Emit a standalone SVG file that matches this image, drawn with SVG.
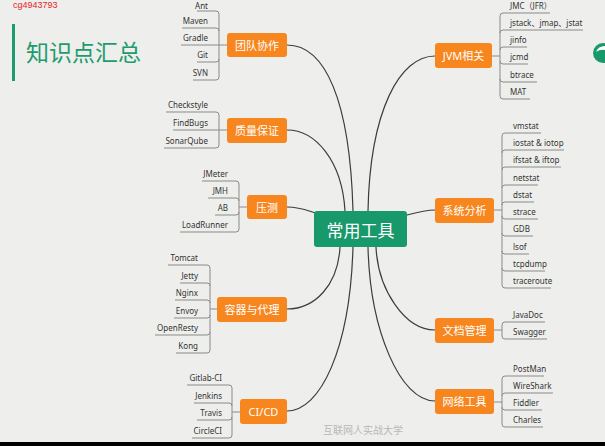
<svg xmlns="http://www.w3.org/2000/svg" width="605" height="446" viewBox="0 0 605 446">
<style>
.main{fill:#f7861e}
.center{fill:#17996b}
.nt{font-family:"Noto Sans","Noto Sans CJK SC",sans-serif;font-size:11px;fill:#ffffff;text-anchor:middle;dominant-baseline:central}
.ct{font-family:"Noto Sans CJK SC","Noto Sans",sans-serif;font-size:17px;fill:#ffffff;text-anchor:middle;dominant-baseline:central}
.conn{fill:none;stroke:#3c3c3c;stroke-width:1.2}
.leafline{fill:none;stroke:#8a8a8a;stroke-width:1}
.lt{font-family:"Noto Sans","Noto Sans CJK SC",sans-serif;font-size:8px;fill:#333333}
.lt.l{text-anchor:end}
</style>
<rect x="0" y="0" width="605" height="446" fill="#eeefec"/>
<rect x="0" y="442" width="605" height="4" fill="#000000"/>
<text x="13" y="8" font-family="Liberation Sans, sans-serif" font-size="9" fill="#e8231e">cg4943793</text>
<rect x="12" y="24" width="3" height="57" fill="#1e9b6e"/>
<text x="26" y="61" font-family="Noto Sans CJK SC, sans-serif" font-size="23" fill="#1e9b6e">知识点汇总</text>
<circle cx="603" cy="53" r="10" fill="#17996b"/>
<path d="M596,52 Q598,46 605,46 L605,50 Q600,49 596,52 Z" fill="#ffffff"/>
<text x="363" y="434" font-family="Noto Sans CJK SC, sans-serif" font-size="10" fill="#b8b8b8" text-anchor="middle">互联网人实战大学</text>

<g id="connectors">
<path class="conn" d="M287,45 C325,45 350,100 353,211"/>
<path class="conn" d="M287,130 C315,130 342,160 345,211"/>
<path class="conn" d="M287,207 C300,207 306,210 315,213"/>
<path class="conn" d="M287,309 C315,309 338,285 340,247"/>
<path class="conn" d="M287,411 C320,411 350,350 353,247"/>
<path class="conn" d="M435,56 C400,56 370,110 368,211"/>
<path class="conn" d="M407,215 C418,212 425,210 435,210"/>
<path class="conn" d="M435,330 C405,330 378,290 376,247"/>
<path class="conn" d="M435,401 C400,401 370,330 368,247"/>
</g>

<g id="center">
<rect class="center" x="314" y="211" width="93" height="36" rx="3"/>
<text class="ct" x="360.5" y="229">常用工具</text>
</g>

<g id="team">
<rect class="main" x="227" y="33" width="60" height="24" rx="3"/>
<text class="nt" x="257" y="45">团队协作</text>
<path class="leafline" d="M219,14 V77 M219,14 Q219,11 216,11 H197 M219,31 Q219,28 216,28 H182 M227,45 H181 M219,59 Q219,62 216,62 H197 M219,77 Q219,80 216,80 H193"/>
<text class="lt l" x="208" y="8.5">Ant</text>
<text class="lt l" x="208" y="24">Maven</text>
<text class="lt l" x="208" y="41">Gradle</text>
<text class="lt l" x="208" y="58">Git</text>
<text class="lt l" x="208" y="76">SVN</text>
</g>

<g id="qa">
<rect class="main" x="227" y="118" width="60" height="25" rx="3"/>
<text class="nt" x="257" y="130.5">质量保证</text>
<path class="leafline" d="M219,115 V145 M219,115 Q219,112 216,112 H166 M227,130 H173 M219,145 Q219,148 216,148 H164"/>
<text class="lt l" x="208" y="108">Checkstyle</text>
<text class="lt l" x="208" y="126">FindBugs</text>
<text class="lt l" x="208" y="144">SonarQube</text>
</g>

<g id="stress">
<rect class="main" x="247" y="195" width="40" height="24" rx="3"/>
<text class="nt" x="267" y="207">压测</text>
<path class="leafline" d="M239,184 V229 M247,207 H239 M239,184 Q239,181 236,181 H202 M239,201 Q239,198 236,198 H208 M239,212 Q239,215 236,215 H215 M239,229 Q239,232 236,232 H180"/>
<text class="lt l" x="228" y="177">JMeter</text>
<text class="lt l" x="228" y="194">JMH</text>
<text class="lt l" x="228" y="211">AB</text>
<text class="lt l" x="228" y="228">LoadRunner</text>
</g>

<g id="container">
<rect class="main" x="217" y="297" width="70" height="25" rx="3"/>
<text class="nt" x="252" y="309.5">容器与代理</text>
<path class="leafline" d="M210,268 V350 M217,309 H210 M210,268 Q210,265 207,265 H168 M210,286 Q210,283 207,283 H180 M210,303 Q210,300 207,300 H175 M210,315 Q210,318 207,318 H174 M210,332 Q210,335 207,335 H155 M210,350 Q210,353 207,353 H176"/>
<text class="lt l" x="198" y="261">Tomcat</text>
<text class="lt l" x="198" y="279">Jetty</text>
<text class="lt l" x="198" y="296">Nginx</text>
<text class="lt l" x="198" y="314">Envoy</text>
<text class="lt l" x="198" y="331">OpenResty</text>
<text class="lt l" x="198" y="349">Kong</text>
</g>

<g id="cicd">
<rect class="main" x="240" y="399" width="47" height="25" rx="3"/>
<text class="nt" x="263.5" y="411.5">CI/CD</text>
<path class="leafline" d="M232,388 V435 M240,412 H232 M232,388 Q232,385 229,385 H187 M232,406 Q232,403 229,403 H194 M232,417 Q232,420 229,420 H197 M232,435 Q232,438 229,438 H192"/>
<text class="lt l" x="222" y="381">Gitlab-CI</text>
<text class="lt l" x="222" y="399">Jenkins</text>
<text class="lt l" x="222" y="416">Travis</text>
<text class="lt l" x="222" y="434">CircleCI</text>
</g>

<g id="jvm">
<rect class="main" x="435" y="43" width="57" height="25" rx="3"/>
<text class="nt" x="463.5" y="55.5">JVM相关</text>
<path class="leafline" d="M500,16 V96 M492,56 H500 M500,16 Q500,13 503,13 H550 M500,33 Q500,30 503,30 H583 M500,50 Q500,47 503,47 H527 M500,61 Q500,64 503,64 H528 M500,79 Q500,82 503,82 H537 M500,96 Q500,99 503,99 H530"/>
<text class="lt" x="510" y="9">JMC（JFR）</text>
<text class="lt" x="510" y="26">jstack、jmap、jstat</text>
<text class="lt" x="510" y="43">jinfo</text>
<text class="lt" x="510" y="60">jcmd</text>
<text class="lt" x="510" y="78">btrace</text>
<text class="lt" x="510" y="95">MAT</text>
</g>

<g id="sys">
<rect class="main" x="435" y="198" width="59" height="25" rx="3"/>
<text class="nt" x="464.5" y="210.5">系统分析</text>
<path class="leafline" d="M502,136 V285 M494,210 H502 M502,136 Q502,133 505,133 H541 M502,153 Q502,150 505,150 H564 M502,170 Q502,167 505,167 H561 M502,188 Q502,185 505,185 H538 M502,205 Q502,202 505,202 H534 M502,216 Q502,219 505,219 H538 M502,233 Q502,236 505,236 H533 M502,251 Q502,254 505,254 H529 M502,268 Q502,271 505,271 H545 M502,285 Q502,288 505,288 H551"/>
<text class="lt" x="513" y="129">vmstat</text>
<text class="lt" x="513" y="146">iostat &amp; iotop</text>
<text class="lt" x="513" y="163">ifstat &amp; iftop</text>
<text class="lt" x="513" y="181">netstat</text>
<text class="lt" x="513" y="198">dstat</text>
<text class="lt" x="513" y="215">strace</text>
<text class="lt" x="513" y="232">GDB</text>
<text class="lt" x="513" y="250">lsof</text>
<text class="lt" x="513" y="267">tcpdump</text>
<text class="lt" x="513" y="284">traceroute</text>
</g>

<g id="doc">
<rect class="main" x="435" y="318" width="59" height="25" rx="3"/>
<text class="nt" x="464.5" y="330.5">文档管理</text>
<path class="leafline" d="M502,325 V336 M494,330 H502 M502,325 Q502,322 505,322 H545 M502,336 Q502,339 505,339 H547"/>
<text class="lt" x="513" y="318">JavaDoc</text>
<text class="lt" x="513" y="335">Swagger</text>
</g>

<g id="net">
<rect class="main" x="435" y="389" width="59" height="25" rx="3"/>
<text class="nt" x="464.5" y="401.5">网络工具</text>
<path class="leafline" d="M502,379 V424 M494,402 H502 M502,379 Q502,376 505,376 H544 M502,396 Q502,393 505,393 H553 M502,407 Q502,410 505,410 H542 M502,424 Q502,427 505,427 H543"/>
<text class="lt" x="513" y="372">PostMan</text>
<text class="lt" x="513" y="389">WireShark</text>
<text class="lt" x="513" y="406">Fiddler</text>
<text class="lt" x="513" y="423">Charles</text>
</g>
</svg>
